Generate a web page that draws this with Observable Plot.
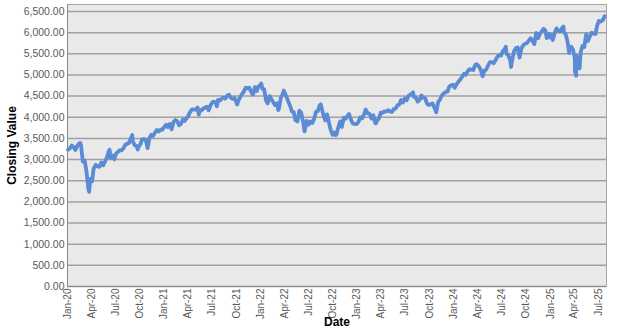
<!DOCTYPE html>
<html><head><meta charset="utf-8">
<script src="https://cdn.jsdelivr.net/npm/d3@7"></script>
<script src="https://cdn.jsdelivr.net/npm/@observablehq/plot@0.6"></script>
<style>
body{margin:0;background:#fff;font-family:"Liberation Sans",Arial,sans-serif;}
</style></head><body><div id="chart"></div>
<script>
const dates = [
"2020-01-03","2020-01-10","2020-01-17","2020-01-24","2020-01-31","2020-02-07","2020-02-14","2020-02-19","2020-02-21","2020-02-28","2020-03-06","2020-03-13","2020-03-20","2020-03-23","2020-03-27","2020-04-03","2020-04-09","2020-04-17","2020-04-24","2020-05-01","2020-05-08","2020-05-15","2020-05-22","2020-05-29","2020-06-05","2020-06-08","2020-06-12","2020-06-19","2020-06-26","2020-07-02","2020-07-10","2020-07-17","2020-07-24","2020-07-31","2020-08-07","2020-08-14","2020-08-21","2020-08-28","2020-09-02","2020-09-04","2020-09-11","2020-09-18","2020-09-23","2020-09-25","2020-10-02","2020-10-09","2020-10-16","2020-10-23","2020-10-30","2020-11-06","2020-11-13","2020-11-20","2020-11-27","2020-12-04","2020-12-11","2020-12-18","2020-12-24","2020-12-31",
"2021-01-08","2021-01-15","2021-01-22","2021-01-29","2021-02-05","2021-02-12","2021-02-19","2021-02-26","2021-03-05","2021-03-12","2021-03-19","2021-03-26","2021-04-01","2021-04-09","2021-04-16","2021-04-23","2021-04-30","2021-05-07","2021-05-12","2021-05-14","2021-05-21","2021-05-28","2021-06-04","2021-06-11","2021-06-18","2021-06-25","2021-07-02","2021-07-09","2021-07-16","2021-07-19","2021-07-23","2021-07-30","2021-08-06","2021-08-13","2021-08-20","2021-08-27","2021-09-03","2021-09-10","2021-09-17","2021-09-24","2021-10-01","2021-10-04","2021-10-08","2021-10-15","2021-10-22","2021-10-29","2021-11-05","2021-11-12","2021-11-19","2021-11-26","2021-12-03","2021-12-10","2021-12-17","2021-12-23","2021-12-31",
"2022-01-03","2022-01-07","2022-01-14","2022-01-21","2022-01-27","2022-02-04","2022-02-11","2022-02-18","2022-02-24","2022-03-04","2022-03-08","2022-03-11","2022-03-18","2022-03-25","2022-03-29","2022-04-08","2022-04-14","2022-04-22","2022-04-29","2022-05-06","2022-05-12","2022-05-20","2022-05-27","2022-06-03","2022-06-10","2022-06-16","2022-06-24","2022-07-01","2022-07-08","2022-07-15","2022-07-22","2022-07-29","2022-08-05","2022-08-12","2022-08-16","2022-08-19","2022-08-26","2022-09-02","2022-09-09","2022-09-16","2022-09-23","2022-09-30","2022-10-07","2022-10-12","2022-10-14","2022-10-21","2022-10-28","2022-11-04","2022-11-11","2022-11-18","2022-11-25","2022-12-01","2022-12-09","2022-12-16","2022-12-23","2022-12-30",
"2023-01-06","2023-01-13","2023-01-20","2023-01-27","2023-02-02","2023-02-10","2023-02-17","2023-02-24","2023-03-03","2023-03-10","2023-03-13","2023-03-17","2023-03-24","2023-03-31","2023-04-06","2023-04-14","2023-04-21","2023-04-28","2023-05-05","2023-05-12","2023-05-19","2023-05-26","2023-06-02","2023-06-09","2023-06-16","2023-06-23","2023-06-30","2023-07-07","2023-07-14","2023-07-21","2023-07-31","2023-08-04","2023-08-11","2023-08-18","2023-08-25","2023-09-01","2023-09-08","2023-09-15","2023-09-22","2023-09-29","2023-10-06","2023-10-13","2023-10-20","2023-10-27","2023-11-03","2023-11-10","2023-11-17","2023-11-24","2023-12-01","2023-12-08","2023-12-15","2023-12-22","2023-12-29",
"2024-01-05","2024-01-12","2024-01-19","2024-01-26","2024-02-02","2024-02-09","2024-02-16","2024-02-23","2024-03-01","2024-03-08","2024-03-15","2024-03-22","2024-03-28","2024-04-05","2024-04-12","2024-04-19","2024-04-26","2024-05-03","2024-05-10","2024-05-17","2024-05-24","2024-05-31","2024-06-07","2024-06-14","2024-06-21","2024-06-28","2024-07-05","2024-07-12","2024-07-16","2024-07-19","2024-07-26","2024-08-02","2024-08-05","2024-08-09","2024-08-16","2024-08-23","2024-08-30","2024-09-06","2024-09-13","2024-09-20","2024-09-27","2024-10-04","2024-10-11","2024-10-18","2024-10-25","2024-11-01","2024-11-08","2024-11-15","2024-11-22","2024-11-29","2024-12-06","2024-12-13","2024-12-18","2024-12-20","2024-12-27","2024-12-31",
"2025-01-03","2025-01-10","2025-01-17","2025-01-24","2025-01-31","2025-02-07","2025-02-14","2025-02-19","2025-02-21","2025-02-28","2025-03-07","2025-03-13","2025-03-14","2025-03-21","2025-03-28","2025-04-03","2025-04-04","2025-04-08","2025-04-09","2025-04-11","2025-04-17","2025-04-21","2025-04-25","2025-05-02","2025-05-09","2025-05-16","2025-05-23","2025-05-30","2025-06-06","2025-06-13","2025-06-20","2025-06-27","2025-07-03","2025-07-11","2025-07-18","2025-07-25"
];
const closes = [
3235,3265,3330,3295,3226,3328,3380,3386,3338,2954,2972,2711,2305,2237,2541,2489,2790,2875,2837,2830,2930,2864,2955,3044,3194,3232,3041,3098,3009,3130,3185,3225,3216,3271,3351,3373,3397,3508,3580,3427,3341,3319,3237,3298,3348,3477,3484,3465,3270,3509,3585,3558,3638,3699,3663,3709,3703,3756,
3825,3768,3841,3714,3887,3934,3907,3811,3842,3943,3913,3975,4020,4129,4185,4180,4181,4233,4063,4174,4156,4204,4230,4247,4166,4281,4352,4370,4327,4258,4412,4395,4437,4468,4442,4509,4535,4459,4433,4455,4357,4300,4391,4471,4545,4605,4698,4682,4698,4595,4538,4712,4620,4725,4766,
4796,4677,4662,4398,4327,4500,4419,4349,4288,4329,4170,4204,4463,4543,4632,4488,4392,4272,4132,4123,3930,3901,4158,4109,3901,3667,3912,3825,3899,3863,3962,4130,4145,4280,4305,4228,4058,3924,4067,3873,3693,3586,3640,3577,3583,3753,3901,3771,3993,3965,4026,4077,3934,3852,3845,3840,
3895,3999,3973,4071,4180,4090,4079,3970,4046,3862,3855,3917,3971,4109,4105,4138,4133,4169,4136,4124,4192,4205,4282,4299,4410,4348,4450,4399,4505,4536,4589,4478,4464,4370,4406,4516,4457,4450,4320,4288,4308,4327,4224,4117,4358,4415,4514,4559,4595,4604,4719,4755,4770,
4697,4784,4840,4891,4959,5027,5006,5089,5137,5124,5117,5234,5254,5204,5123,4967,5100,5128,5223,5303,5305,5278,5347,5431,5465,5460,5567,5615,5667,5505,5459,5346,5186,5344,5554,5635,5648,5408,5626,5703,5738,5751,5815,5865,5808,5729,5995,5870,5969,6032,6090,6051,5872,5931,5971,5882,
5942,5827,5997,6101,6041,6026,6115,6144,6013,5955,5770,5522,5639,5668,5581,5397,5074,4983,5457,5363,5283,5158,5525,5687,5660,5958,5803,5912,6000,5977,5968,6173,6279,6260,6297,6389
];
const yTicks = [0,500,1000,1500,2000,2500,3000,3500,4000,4500,5000,5500,6000,6500];
const xTickStart = "2020-01-01", xTickEnd = "2025-07-02";

const data = dates.map((d,i)=>({date:new Date(d), value:closes[i]}));
const xTicks = d3.utcMonth.every(3).range(new Date(xTickStart), new Date(xTickEnd));

const chart = Plot.plot({
  width:617, height:329,
  marginLeft:67, marginRight:11, marginTop:4, marginBottom:43,
  style:{fontFamily:"'Liberation Sans', Arial, sans-serif", fontSize:"10px", color:"#595959", background:"#fff"},
  x:{type:"utc", domain:[new Date("2020-01-01"), new Date("2025-08-01")], label:null},
  y:{domain:[0,6665], label:null},
  marks:[
    Plot.frame({fill:"#e9e9e9", stroke:"#a6a6a6"}),
    Plot.gridY(yTicks, {stroke:"#a0a0a0", strokeOpacity:1, strokeWidth:1.5}),
    Plot.ruleX([new Date("2020-01-01")], {stroke:"#888"}),
    Plot.ruleY([0], {stroke:"#888"}),
    Plot.line(data, {x:"date", y:"value", stroke:"#5b8bd4", strokeWidth:3.8, strokeLinejoin:"round"}),
    Plot.axisX({ticks:xTicks, tickFormat:d3.utcFormat("%b-%y"), tickRotate:-90, tickSize:0, tickPadding:2, fontSize:10, fill:"#595959", label:"Date", labelAnchor:"center", labelArrow:"none", labelOffset:39}),
    Plot.axisY({ticks:yTicks, tickFormat:d3.format(",.2f"), tickSize:0, tickPadding:3, fontSize:10.5, fill:"#595959", label:"Closing Value", labelAnchor:"center", labelArrow:"none", labelOffset:60})
  ]
});
d3.select(chart).selectAll("[aria-label='x-axis label'] text, [aria-label='y-axis label'] text")
  .attr("fill","#000").style("font-weight","bold").style("font-size","12px");
document.getElementById("chart").append(chart);
</script></body></html>
